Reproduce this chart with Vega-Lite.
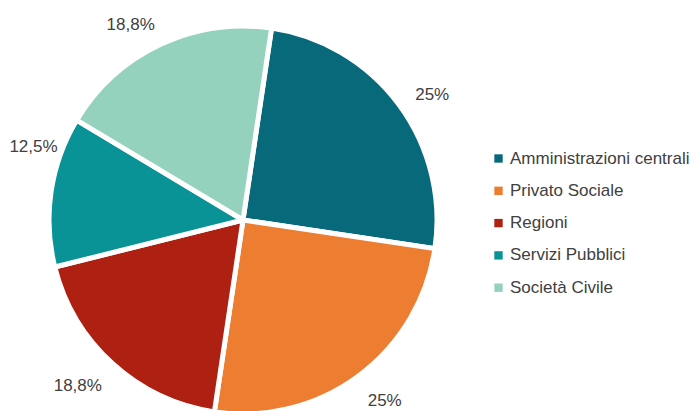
{
  "$schema": "https://vega.github.io/schema/vega-lite/v6.json",
  "width": 486,
  "height": 440,
  "autosize": {"type": "none"},
  "padding": {"left": 0, "top": 0, "right": 209, "bottom": 0},
  "background": "white",
  "config": {"view": {"stroke": null}},
  "data": {
    "values": [
      {"cat": "Amministrazioni centrali", "val": 25, "label": "25%", "ord": 1},
      {"cat": "Privato Sociale", "val": 25, "label": "25%", "ord": 2},
      {"cat": "Regioni", "val": 18.75, "label": "18,8%", "ord": 3},
      {"cat": "Servizi Pubblici", "val": 12.5, "label": "12,5%", "ord": 4},
      {"cat": "Società Civile", "val": 18.75, "label": "18,8%", "ord": 5}
    ]
  },
  "encoding": {
    "theta": {"field": "val", "type": "quantitative", "stack": true, "scale": {"range": [0.148, 6.431]}},
    "order": {"field": "ord", "type": "quantitative"}
  },
  "layer": [
    {
      "mark": {"type": "arc", "outerRadius": 194, "stroke": "white", "strokeWidth": 5},
      "encoding": {
        "color": {
          "field": "cat",
          "type": "nominal",
          "sort": ["Amministrazioni centrali", "Privato Sociale", "Regioni", "Servizi Pubblici", "Società Civile"],
          "scale": {
            "domain": ["Amministrazioni centrali", "Privato Sociale", "Regioni", "Servizi Pubblici", "Società Civile"],
            "range": ["#08697B", "#ED7D31", "#AE2012", "#0A9396", "#94D2BD"]
          },
          "legend": {
            "title": null,
            "orient": "none",
            "legendX": 490,
            "legendY": 150,
            "symbolType": "square",
            "symbolSize": 70,
            "symbolStrokeWidth": 0,
            "labelFontSize": 17,
            "labelFont": "Liberation Sans",
            "labelColor": "#404040",
            "labelOffset": 3,
            "rowPadding": 14.3,
            "labelLimit": 300
          }
        }
      }
    },
    {
      "mark": {
        "type": "text",
        "radius": 228,
        "fontSize": 17,
        "font": "Liberation Sans",
        "color": "#404040",
        "dx": {"expr": "datum.ord == 4 ? 16 : datum.ord == 5 ? -15 : datum.ord == 3 ? -12 : datum.ord == 1 ? 6 : 6"},
        "dy": {"expr": "datum.ord == 4 ? -39 : datum.ord == 5 ? 11 : datum.ord == 3 ? -3 : datum.ord == 1 ? 11 : -2"}
      },
      "encoding": {"text": {"field": "label", "type": "nominal"}}
    }
  ]
}
